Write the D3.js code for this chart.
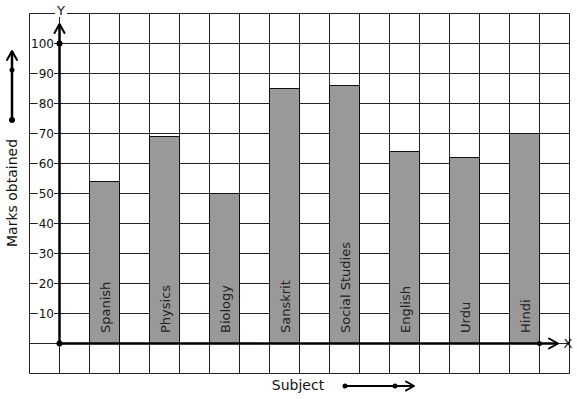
<!DOCTYPE html>
<html>
<head>
<meta charset="utf-8">
<script src="https://cdn.jsdelivr.net/npm/d3@7"></script>
<style>
  body { margin: 0; background: #fff; }
  svg { display: block; font-family: "DejaVu Sans", sans-serif; }
</style>
</head>
<body>
<div id="chart"></div>
<script>
const subjects = ["Spanish", "Physics", "Biology", "Sanskrit", "Social Studies", "English", "Urdu", "Hindi"];
const marks = [54, 69, 50, 85, 86, 64, 62, 70];
const yTicks = [10, 20, 30, 40, 50, 60, 70, 80, 90, 100];

const width = 577, height = 399;

const svg = d3.select("#chart").append("svg")
  .attr("width", width)
  .attr("height", height);

// grid runs one cell past the axes on every side
const gx = d3.scaleLinear().domain([-1, 17]).range([29.5, 569.5]);
const y = d3.scaleLinear().domain([0, 100]).range([343, 43]);
const x = d3.scaleBand().domain(subjects).range([59.5, 569.5])
  .paddingInner(0.5).paddingOuter(0.5).align(0.5);

const grid = svg.append("g").attr("stroke", "#222").attr("stroke-width", 1);
d3.range(-1, 18).forEach(i => {
  grid.append("line")
    .attr("x1", gx(i)).attr("x2", gx(i))
    .attr("y1", y(110) + 0.5).attr("y2", y(-10) + 0.5);
});
d3.range(-10, 111, 10).forEach(v => {
  grid.append("line")
    .attr("x1", gx(-1)).attr("x2", gx(17))
    .attr("y1", y(v) + 0.5).attr("y2", y(v) + 0.5);
});

// bars
svg.selectAll("rect.bar")
  .data(subjects)
  .enter()
  .append("rect")
  .attr("class", "bar")
  .attr("x", d => x(d))
  .attr("y", (d, i) => y(marks[i]) + 0.5)
  .attr("width", x.bandwidth())
  .attr("height", (d, i) => y(0) - y(marks[i]))
  .attr("fill", "#999")
  .attr("stroke", "#111")
  .attr("stroke-width", 1);

svg.selectAll("text.blabel")
  .data(subjects)
  .enter()
  .append("text")
  .attr("class", "blabel")
  .attr("transform", d => `translate(${x(d) + x.bandwidth() / 2 + 5},${y(0) - 10}) rotate(-90)`)
  .attr("font-size", "13px")
  .attr("fill", "#222")
  .text(d => d);

// y tick labels with white backing
const tick = svg.selectAll("g.tick")
  .data(yTicks)
  .enter()
  .append("g")
  .attr("class", "tick")
  .attr("transform", d => `translate(54,${y(d) + 0.5})`);
tick.append("text")
  .attr("text-anchor", "end")
  .attr("dy", "0.36em")
  .attr("font-size", "12px")
  .attr("fill", "#111")
  .text(d => d);
tick.each(function () {
  const b = d3.select(this).select("text").node().getBBox();
  d3.select(this).insert("rect", "text")
    .attr("x", b.x - 1).attr("y", b.y + 3)
    .attr("width", b.width + 1).attr("height", b.height - 6)
    .attr("fill", "#fff");
});

// axes
const ax = svg.append("g").attr("stroke", "#000").attr("fill", "none")
  .attr("stroke-linecap", "round").attr("stroke-linejoin", "round");
ax.append("line")
  .attr("x1", 59.5).attr("x2", 59.5)
  .attr("y1", y(0) + 0.5).attr("y2", 25)
  .attr("stroke-width", 2.5);
ax.append("path").attr("d", "M54.5,33 L59.5,24 L64.5,33").attr("stroke-width", 2);
ax.append("line")
  .attr("x1", 59.5).attr("x2", 557)
  .attr("y1", y(0) + 0.5).attr("y2", y(0) + 0.5)
  .attr("stroke-width", 2.5);
ax.append("path").attr("d", "M549,338.5 L558,343.5 L549,348.5").attr("stroke-width", 2);

// left "marks" arrow
ax.append("line").attr("x1", 12).attr("x2", 12).attr("y1", 120).attr("y2", 52).attr("stroke-width", 2.5);
ax.append("path").attr("d", "M7,60 L12,51 L17,60").attr("stroke-width", 2);
// bottom "subject" arrow
ax.append("line").attr("x1", 345).attr("x2", 413).attr("y1", 386).attr("y2", 386).attr("stroke-width", 2);
ax.append("path").attr("d", "M406,381.5 L414,386 L406,390.5").attr("stroke-width", 2);

const dots = [[59.5, y(0) + 0.5, 3], [59.5, y(100) + 0.5, 3], [539.5, y(0) + 0.5, 2.5],
  [12, 70, 2.5], [12, 120, 3], [345, 386, 2.5], [395, 386, 2.5]];
svg.selectAll("circle.dot")
  .data(dots)
  .enter()
  .append("circle")
  .attr("cx", d => d[0]).attr("cy", d => d[1]).attr("r", d => d[2])
  .attr("fill", "#000");

// axis letters
svg.append("rect").attr("x", 55).attr("y", 3).attr("width", 12).attr("height", 14).attr("fill", "#fff");
svg.append("text").attr("x", 61).attr("y", 15).attr("text-anchor", "middle")
  .attr("font-size", "13px").attr("fill", "#111").text("Y");
svg.append("text").attr("x", 568).attr("y", 348).attr("text-anchor", "middle")
  .attr("font-size", "13px").attr("fill", "#111").text("X");

// axis titles
svg.append("text")
  .attr("transform", "translate(17,193) rotate(-90)")
  .attr("text-anchor", "middle")
  .attr("font-size", "14px")
  .attr("fill", "#111")
  .text("Marks obtained");
svg.append("text")
  .attr("x", 298).attr("y", 390)
  .attr("text-anchor", "middle")
  .attr("font-size", "14px")
  .attr("fill", "#111")
  .text("Subject");
</script>
</body>
</html>
